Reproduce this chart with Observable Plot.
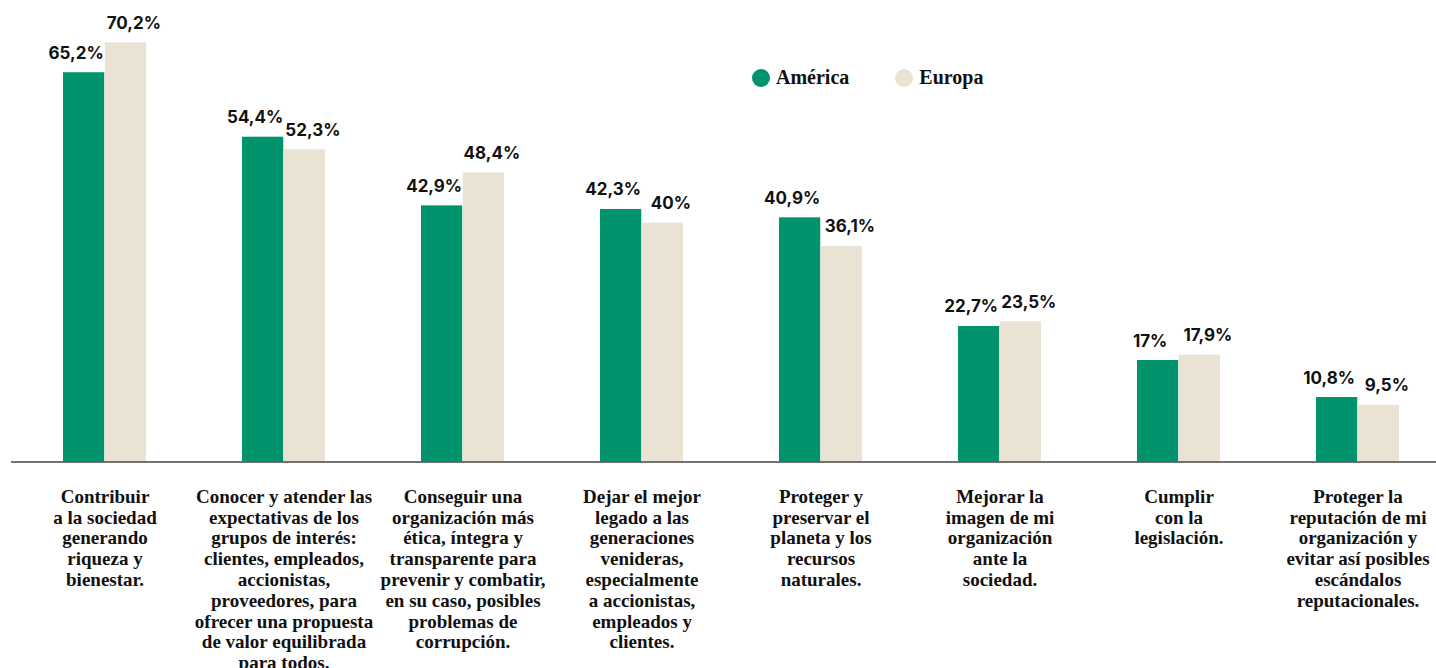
<!DOCTYPE html>
<html>
<head>
<meta charset="utf-8">
<script src="https://cdn.jsdelivr.net/npm/d3@7"></script>
<script src="https://cdn.jsdelivr.net/npm/@observablehq/plot@0.6"></script>
<style>
  html, body { margin: 0; padding: 0; background: #fff; }
  #wrap { position: relative; width: 1436px; height: 668px; overflow: hidden; }
  #legend { position: absolute; left: 752px; top: 66px; display: flex; align-items: center;
    font-family: "Liberation Serif", serif; font-weight: bold; font-size: 20px; color: #111; }
  #legend .item { display: flex; align-items: center; margin-right: 46px; }
  #legend .sw { width: 18px; height: 18px; border-radius: 50%; margin-right: 6px; }
  svg { display: block; }
</style>
</head>
<body>
<div id="wrap"><div id="legend"></div></div>
<script>
const categories = [
  "Contribuir\na la sociedad\ngenerando\nriqueza y\nbienestar.",
  "Conocer y atender las\nexpectativas de los\ngrupos de interés:\nclientes, empleados,\naccionistas,\nproveedores, para\nofrecer una propuesta\nde valor equilibrada\npara todos.",
  "Conseguir una\norganización más\nética, íntegra y\ntransparente para\nprevenir y combatir,\nen su caso, posibles\nproblemas de\ncorrupción.",
  "Dejar el mejor\nlegado a las\ngeneraciones\nvenideras,\nespecialmente\na accionistas,\nempleados y\nclientes.",
  "Proteger y\npreservar el\nplaneta y los\nrecursos\nnaturales.",
  "Mejorar la\nimagen de mi\norganización\nante la\nsociedad.",
  "Cumplir\ncon la\nlegislación.",
  "Proteger la\nreputación de mi\norganización y\nevitar así posibles\nescándalos\nreputacionales."
];
const seriesNames = ["América", "Europa"];
const seriesColors = ["#00936e", "#eae2d2"];
const america = [65.2, 54.4, 42.9, 42.3, 40.9, 22.7, 17, 10.8];
const europa  = [70.2, 52.3, 48.4, 40, 36.1, 23.5, 17.9, 9.5];

const fmt = v => String(v).replace(".", ",") + "%";
const dataA = categories.map((c, i) => ({cat: c, value: america[i], label: fmt(america[i])}));
const dataE = categories.map((c, i) => ({cat: c, value: europa[i], label: fmt(europa[i])}));

const half = 83.5 / 2;
const labelFont = "Inter, 'Open Sans', sans-serif";

const chart = Plot.plot({
  width: 1436,
  height: 668,
  marginLeft: 11,
  marginRight: 0,
  marginTop: 0,
  marginBottom: 206.5,
  x: {type: "band", domain: categories, range: [13, 1449.8], paddingInner: 0.5351, paddingOuter: 0.2675, axis: null},
  y: {domain: [0, 77.3], range: [461.5, 0], axis: null},
  marks: [
    Plot.barY(dataA, {x: "cat", y: "value", fill: seriesColors[0], insetRight: half}),
    Plot.barY(dataE, {x: "cat", y: "value", fill: seriesColors[1], insetLeft: half}),
    Plot.ruleY([0], {stroke: "#444", strokeWidth: 1.5}),
    Plot.text(dataA, {x: "cat", y: "value", text: "label", dx: -half / 2 - 8, dy: -14, lineAnchor: "bottom",
      fontFamily: labelFont, fontWeight: "bold", fontSize: 17, fill: "#111"}),
    Plot.text(dataE, {x: "cat", y: "value", text: "label", dx: half / 2 + 8, dy: -14, lineAnchor: "bottom",
      fontFamily: labelFont, fontWeight: "bold", fontSize: 17, fill: "#111"}),
    Plot.text(categories, {x: d => d, frameAnchor: "bottom", text: d => d, lineAnchor: "top", dy: 26,
      lineHeight: 1.095, fontFamily: "'Liberation Serif', serif", fontWeight: "bold", fontSize: 19, fill: "#111"})
  ]
});
document.getElementById("wrap").prepend(chart);

const legend = document.getElementById("legend");
seriesNames.forEach((name, i) => {
  const item = document.createElement("div");
  item.className = "item";
  const sw = document.createElement("span");
  sw.className = "sw";
  sw.style.background = seriesColors[i];
  const t = document.createElement("span");
  t.textContent = name;
  item.append(sw, t);
  legend.append(item);
});
</script>
</body>
</html>
